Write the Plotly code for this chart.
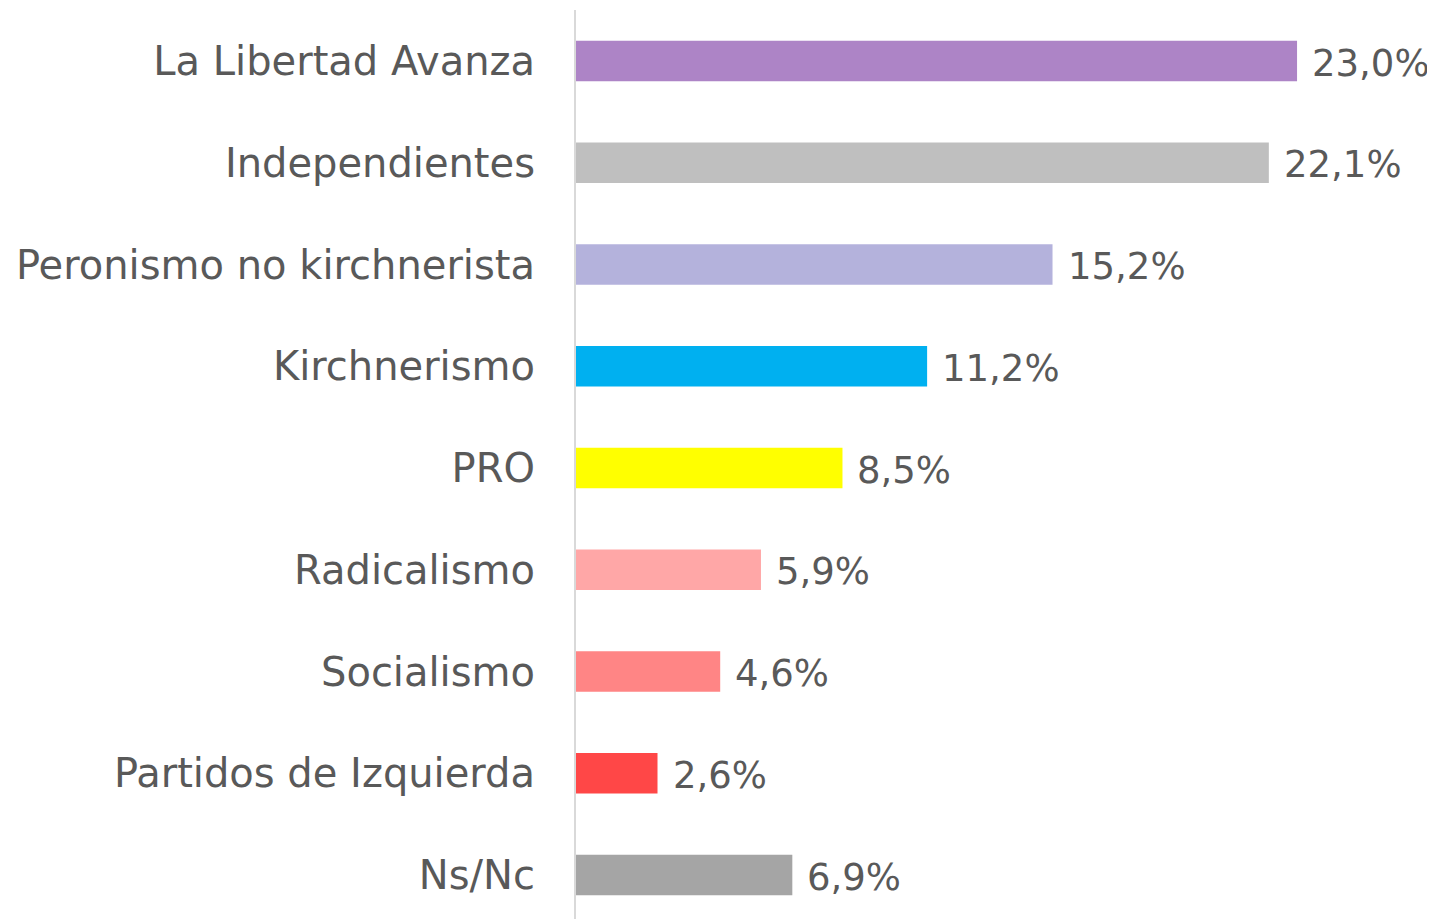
import plotly.graph_objects as go

categories = ["La Libertad Avanza", "Independientes", "Peronismo no kirchnerista",
              "Kirchnerismo", "PRO", "Radicalismo", "Socialismo",
              "Partidos de Izquierda", "Ns/Nc"]
values = [23.0, 22.1, 15.2, 11.2, 8.5, 5.9, 4.6, 2.6, 6.9]
labels = ["23,0%", "22,1%", "15,2%", "11,2%", "8,5%", "5,9%", "4,6%", "2,6%", "6,9%"]
colors = ["#AD84C6", "#BFBFBF", "#B4B2DC", "#00B0F0", "#FFFF00",
          "#FFA7A7", "#FF8585", "#FF4747", "#A5A5A5"]

FONT = "'DejaVu Sans', sans-serif"
TXT = "#595959"

fig = go.Figure(go.Bar(
    y=categories, x=values, orientation="h",
    marker=dict(color=colors, line=dict(width=0)),
    width=0.4, hoverinfo="skip",
))

for c, v, t in zip(categories, values, labels):
    fig.add_annotation(x=v, y=c, text=t, showarrow=False, xanchor="left",
                       xshift=13, yshift=-2,
                       font=dict(family=FONT, size=37, color=TXT))

fig.update_layout(
    width=1427, height=911,
    margin=dict(l=568, r=0, t=2, b=0),
    plot_bgcolor="white", paper_bgcolor="white",
    showlegend=False,
    xaxis=dict(range=[0, 859 / 31.35], visible=False, fixedrange=True),
    yaxis=dict(
        categoryorder="array", categoryarray=categories,
        range=[8 + 44 / 101.75, -51 / 101.75],
        showline=True, linecolor="#D9D9D9", linewidth=2,
        showgrid=False, zeroline=False, ticks="",
        ticklabelstandoff=31,
        tickfont=dict(family=FONT, size=40, color=TXT),
    ),
)

fig.write_html("out.html")
